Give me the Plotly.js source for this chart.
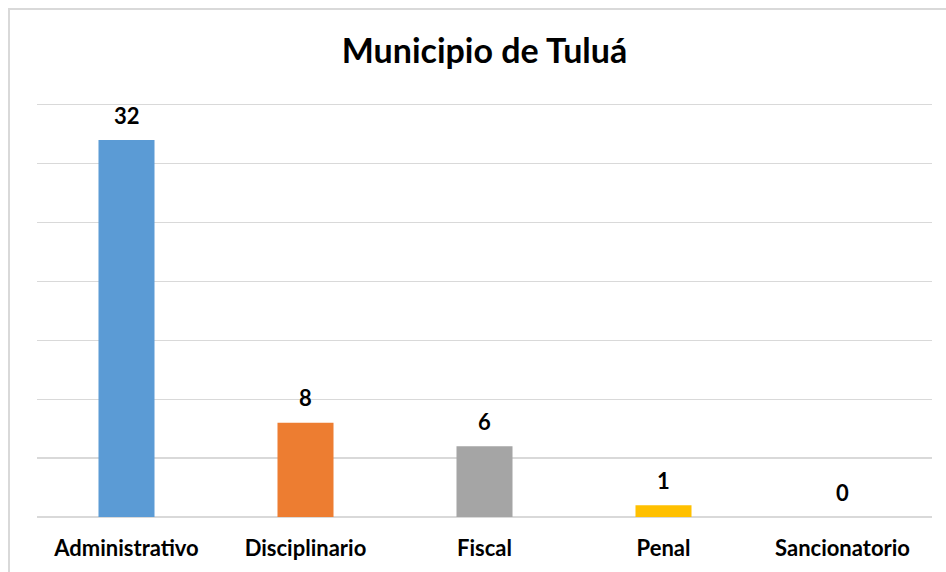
<!DOCTYPE html>
<html>
<head>
<meta charset="utf-8">
<script src="https://cdn.plot.ly/plotly-3.0.1.min.js"></script>
<style>
html,body{margin:0;padding:0;background:#fff;}
#wrap{position:relative;width:946px;height:572px;overflow:hidden;}
#chart{position:absolute;left:0;top:0;width:946px;height:572px;}
#frame{position:absolute;left:8px;top:8px;width:960px;height:600px;border-left:2px solid #d9d9d9;border-top:2px solid #d9d9d9;pointer-events:none;}
</style>
</head>
<body>
<div id="wrap"><div id="chart"></div><div id="frame"></div></div>
<script>
const chartTitle = "Municipio de Tuluá";
const categories = ["Administrativo", "Disciplinario", "Fiscal", "Penal", "Sancionatorio"];
const values = [32, 8, 6, 1, 0];
const barColors = ["#5b9bd5", "#ed7d31", "#a5a5a5", "#ffc000", "#4472c4"];
const gridValues = [0, 5, 10, 15, 20, 25, 30, 35];

const FONT = "Lato, 'Open Sans', sans-serif";

const trace = {
  type: "bar",
  x: categories,
  y: values,
  marker: {color: barColors, line: {width: 0}},
  hoverinfo: "none",
  showlegend: false
};

const annotations = categories.map((c, i) => ({
  x: c, y: values[i], xref: "x", yref: "y",
  text: "<b>" + values[i] + "</b>",
  showarrow: false, yanchor: "middle", yshift: 25,
  font: {family: FONT, size: 22, color: "#000"}
}));

const layout = {
  width: 946, height: 572,
  margin: {l: 37, r: 14, t: 93, b: 55, pad: 0},
  paper_bgcolor: "#fff", plot_bgcolor: "#fff",
  title: {
    text: "<b>" + chartTitle + "</b>",
    x: 0.5, xref: "paper", y: 1 - 51/572, yref: "container", yanchor: "middle",
    font: {family: FONT, size: 34, color: "#000"}
  },
  bargap: 0.687,
  xaxis: {
    type: "category",
    showgrid: false, zeroline: false, showline: false,
    ticks: "outside", ticklen: 12, tickcolor: "rgba(0,0,0,0)",
    tickfont: {family: FONT, size: 22, color: "#000"},
    tickprefix: "<b>", ticksuffix: "</b>",
    fixedrange: true
  },
  yaxis: {
    range: [0, 36], tickvals: gridValues,
    showgrid: true, gridcolor: "#d9d9d9", gridwidth: 1.3,
    zeroline: true, zerolinecolor: "#d9d9d9", zerolinewidth: 1.3,
    showline: false, showticklabels: false, ticks: "",
    fixedrange: true
  },
  annotations: annotations,
  hovermode: false
};

Plotly.newPlot("chart", [trace], layout, {displayModeBar: false, staticPlot: true});
</script>
</body>
</html>
